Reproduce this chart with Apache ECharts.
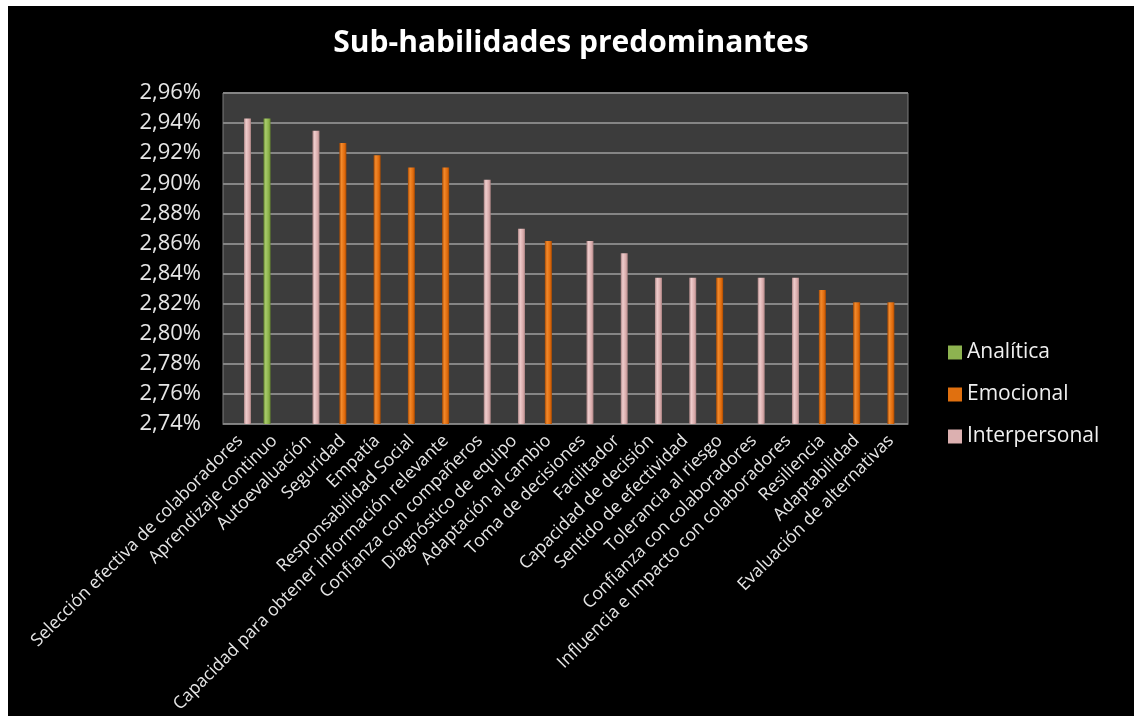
<!DOCTYPE html>
<html>
<head>
<meta charset="utf-8">
<script src="https://cdn.jsdelivr.net/npm/echarts@6/dist/echarts.min.js"></script>
<style>
  html, body { margin: 0; padding: 0; background: #ffffff; }
  #chart { position: absolute; left: 8px; top: 6px; width: 1126px; height: 710px; background: #000000; }
</style>
</head>
<body>
<div id="chart"></div>
<script>
// Sub-skills ordered by score (percent); each skill belongs to one group
const categories = [
  'Selección efectiva de colaboradores',
  'Aprendizaje continuo',
  'Autoevaluación',
  'Seguridad',
  'Empatía',
  'Responsabilidad Social',
  'Capacidad para obtener información relevante',
  'Confianza con compañeros',
  'Diagnóstico de equipo',
  'Adaptación al cambio',
  'Toma de decisiones',
  'Facilitador',
  'Capacidad de decisión',
  'Sentido de efectividad',
  'Tolerancia al riesgo',
  'Confianza con colaboradores',
  'Influencia e Impacto con colaboradores',
  'Resiliencia',
  'Adaptabilidad',
  'Evaluación de alternativas'
];

const analitica = [null, 2.9431, null, null, null, null, null, null, null, null,
                   null, null, null, null, null, null, null, null, null, null];
const emocional = [null, null, null, 2.9268, 2.9187, 2.9105, 2.9105, null, null, 2.8617,
                   null, null, null, null, 2.8372, null, null, 2.8290, 2.8209, 2.8209];
const interpersonal = [2.9431, null, 2.9349, null, null, null, null, 2.9024, 2.8698, null,
                       2.8617, 2.8535, 2.8372, 2.8372, null, 2.8372, 2.8372, null, null, null];

const seriesNames = ['Analítica', 'Emocional', 'Interpersonal'];
const yMin = 2.74, yMax = 2.96, yStep = 0.02;

const font = '"Open Sans", "Noto Sans", sans-serif';

// Cylinder-like shading across each thin bar
function barFill(light, mid, dark) {
  return new echarts.graphic.LinearGradient(0, 0, 1, 0, [
    { offset: 0, color: dark },
    { offset: 0.3, color: light },
    { offset: 0.75, color: mid },
    { offset: 1, color: dark }
  ]);
}

const palette = [
  { legend: '#8db350', fill: barFill('#a9cc6c', '#8ab148', '#66882f') },
  { legend: '#e0700f', fill: barFill('#f38a2c', '#df6a0c', '#a84a02') },
  { legend: '#dcb0b0', fill: barFill('#f0cdcd', '#d8aaaa', '#a88282') }
];

const seriesData = [analitica, emocional, interpersonal];

const chart = echarts.init(document.getElementById('chart'), null, { renderer: 'canvas' });
chart.setOption({
  backgroundColor: '#000000',
  animation: false,
  title: {
    text: 'Sub-habilidades predominantes',
    left: 'center',
    top: 17,
    textStyle: { color: '#ffffff', fontFamily: font, fontWeight: 'bold', fontSize: 30 }
  },
  legend: {
    orient: 'vertical',
    left: 935,
    top: 331,
    itemWidth: 14,
    itemHeight: 14,
    itemGap: 21,
    icon: 'rect',
    textStyle: { color: '#f0f0f0', fontFamily: font, fontSize: 21 },
    data: seriesNames.map((n, i) => ({ name: n, itemStyle: { color: palette[i].legend } }))
  },
  grid: {
    left: 215, top: 87, right: 226, bottom: 292,
    show: true,
    backgroundColor: '#3c3c3c',
    borderColor: '#7c7c7c',
    borderWidth: 1
  },
  xAxis: {
    type: 'category',
    data: categories,
    axisLine: { show: true, lineStyle: { color: '#7c7c7c' } },
    axisTick: { show: false },
    axisLabel: {
      interval: 0,
      rotate: 45,
      color: '#e6e6e6',
      fontFamily: font,
      fontSize: 17.5,
      margin: 14
    }
  },
  yAxis: {
    type: 'value',
    min: yMin,
    max: yMax,
    interval: yStep,
    axisLine: { show: false },
    axisTick: { show: false },
    splitLine: { lineStyle: { color: '#858585', width: 2 } },
    axisLabel: {
      color: '#e6e6e6',
      fontFamily: font,
      fontSize: 22,
      margin: 22,
      formatter: v => v.toFixed(2).replace('.', ',') + '%'
    }
  },
  series: seriesNames.map((name, i) => ({
    name: name,
    type: 'bar',
    data: seriesData[i],
    barWidth: 7,
    barGap: '5%',
    itemStyle: { color: palette[i].fill }
  }))
});
</script>
</body>
</html>
